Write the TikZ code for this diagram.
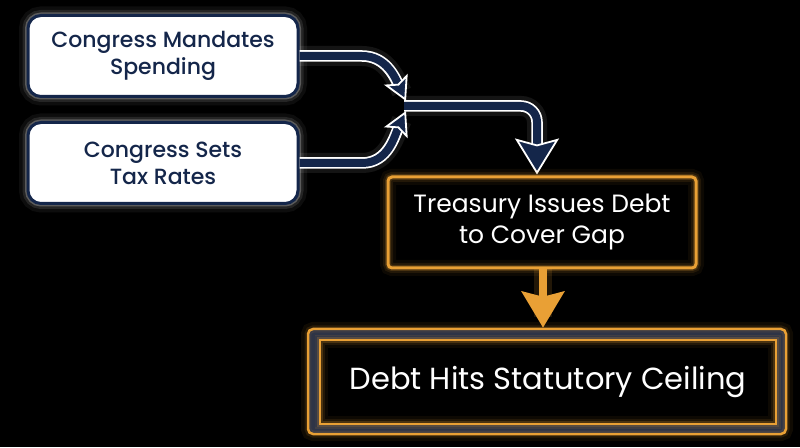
\documentclass[tikz,border=0pt]{standalone}
\usepackage{fontspec}
\setmainfont{Poppins}[UprightFont=* Medium]
\newfontfamily\lightfont{Poppins}
\usetikzlibrary{arrows.meta}
\definecolor{navy}{HTML}{14264A}
\definecolor{gold}{HTML}{E9A035}
\begin{document}
\begin{tikzpicture}[x=1pt,y=1pt,
  wglow/.style={preaction={draw=white,opacity=0.05,line width=18pt},preaction={draw=white,opacity=0.1,line width=11pt},preaction={draw=white,opacity=0.25,line width=6pt}},
  oglow/.style={postaction={draw=gold,opacity=0.06,line width=16pt},postaction={draw=gold,opacity=0.1,line width=10pt},postaction={draw=gold,opacity=0.2,line width=6pt}},
  inbox/.style={wglow, draw=navy, line width=3pt, fill=white, rounded corners=13pt, minimum width=270pt, minimum height=81pt, text=navy, font=\fontsize{22}{27}\selectfont, align=center, inner sep=0pt},
  midbox/.style={oglow, draw=gold, line width=3pt, fill=black, rounded corners=4pt, minimum width=308pt, minimum height=91pt, text=white, font=\lightfont\fontsize{25}{31}\selectfont, align=center, inner sep=0pt},
  outbox/.style={postaction={draw=gold,opacity=0.07,line width=14pt},postaction={draw=gold,opacity=0.12,line width=7pt}, draw=gold, line width=2.5pt, fill=navy, rounded corners=5pt, minimum width=478pt, minimum height=105pt, inner sep=0pt},
  finbox/.style={oglow, draw=gold, line width=2pt, fill=black, minimum width=456pt, minimum height=84pt, text=white, font=\lightfont\fontsize{30.5}{36}\selectfont, inner sep=0pt},
  shaftout/.style={draw=white, line width=11.5pt},
  shaftglow/.style={draw=white, opacity=0.08, line width=20pt},
]
\fill[black] (0,0) rectangle (800,447);
\useasboundingbox (0,0) rectangle (800,447);

\node[inbox] (A) at (163,391) {Congress Mandates\\Spending};
\node[inbox] (B) at (163,284) {Congress Sets\\Tax Rates};
\node[outbox] (Dout) at (547,65.5) {};
\node[finbox] (D) at (548,65) {Debt Hits Statutory Ceiling};

\coordinate (J) at (404,341);
\coordinate (Jt) at (406,346);
\coordinate (Jb) at (406,336);
\coordinate (T) at (537,272.5);

% glows
\draw[shaftglow, shorten >=10pt] (A.east) -- (362,391) to[out=0,in=115] (Jt);
\draw[shaftglow, shorten >=10pt] (B.east) -- (362,284) to[out=0,in=-115] (Jb);
\draw[shaftglow, rounded corners=16pt, shorten >=20pt] (J) -| (T);

% white outlines
\draw[shaftout, shorten >=14pt] (A.east) -- (362,391) to[out=0,in=115] (Jt);
\draw[shaftout, shorten >=14pt] (B.east) -- (362,284) to[out=0,in=-115] (Jb);
\draw[shaftout, rounded corners=16pt, shorten >=28pt] (J) -| (T);

% navy arrows
\draw[navy, line width=8pt, -{Stealth[length=24pt, width=26pt, inset=5pt, line width=1.8pt, color=white, fill=navy]}]
  (A.east) -- (362,391) to[out=0,in=115] (Jt);
\draw[navy, line width=8pt, -{Stealth[length=24pt, width=26pt, inset=5pt, line width=1.8pt, color=white, fill=navy]}]
  (B.east) -- (362,284) to[out=0,in=-115] (Jb);
\draw[navy, line width=8pt, rounded corners=16pt, -{Stealth[length=36pt, width=44pt, inset=6pt, line width=1.8pt, color=white, fill=navy]}]
  (J) -| (T);

\node[midbox] (C) at (542,224.5) {Treasury Issues Debt\\to Cover Gap};

% orange arrow
\draw[gold, opacity=0.15, line width=18pt] (C.south -| 543,0) -- (543,130);
\draw[gold, line width=8pt, -{Stealth[length=36pt, width=42pt, inset=5pt]}] (C.south -| 543,0) -- (Dout.north -| 543,0);
\end{tikzpicture}
\end{document}
